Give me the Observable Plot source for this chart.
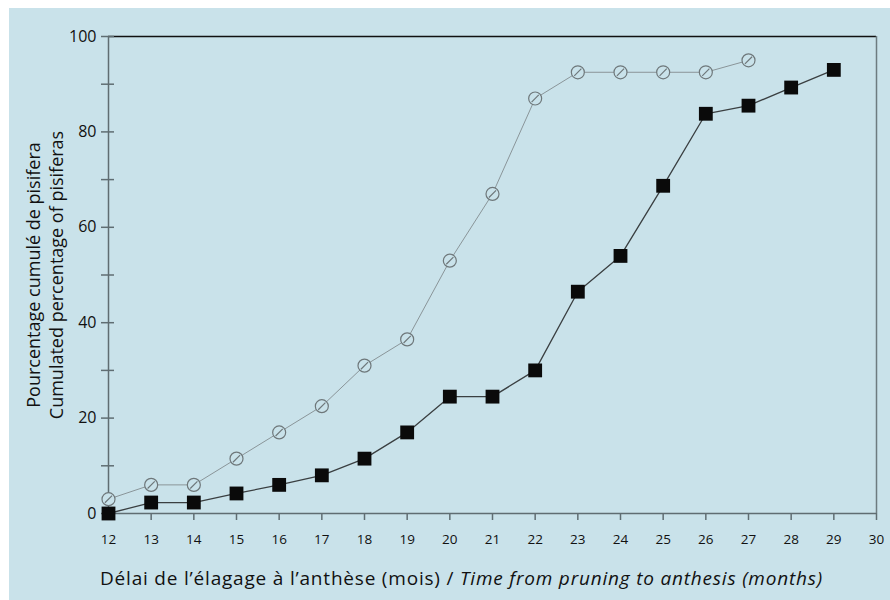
<!DOCTYPE html>
<html>
<head>
<meta charset="utf-8">
<script src="https://cdn.jsdelivr.net/npm/d3@7"></script>
<script src="https://cdn.jsdelivr.net/npm/@observablehq/plot@0.6"></script>
<style>
  html, body { margin: 0; padding: 0; background: #ffffff; }
  #chart { position: absolute; left: 9px; top: 8px; width: 881px; height: 592px; background: #c9e2ea; }
  svg { font-family: "Open Sans", "Noto Sans", sans-serif; }
</style>
</head>
<body>
<div id="chart"></div>
<script>
const months = [12, 13, 14, 15, 16, 17, 18, 19, 20, 21, 22, 23, 24, 25, 26, 27, 28, 29];
const circleValues = [3, 6, 6, 11.5, 17, 22.5, 31, 36.5, 53, 67, 87, 92.5, 92.5, 92.5, 92.5, 95, null, null];
const squareValues = [0, 2.3, 2.3, 4.2, 6, 8, 11.5, 17, 24.5, 24.5, 30, 46.5, 54, 68.7, 83.8, 85.5, 89.3, 93];
const xTicks = [12, 13, 14, 15, 16, 17, 18, 19, 20, 21, 22, 23, 24, 25, 26, 27, 28, 29, 30];
const yTicks = [0, 20, 40, 60, 80, 100];
const yMinorTicks = [10, 30, 50, 70, 90];
const yLabel1 = "Pourcentage cumulé de pisifera";
const yLabel2 = "Cumulated percentage of pisiferas";
const xLabelFr = "Délai de l’élagage à l’anthèse (mois) / ";
const xLabelEn = "Time from pruning to anthesis (months)";

const circles = months.map((m, i) => ({month: m, value: circleValues[i]})).filter(d => d.value != null);
const squares = months.map((m, i) => ({month: m, value: squareValues[i]})).filter(d => d.value != null);

// open circle with a diagonal hatch stroke
const hatchedCircle = {
  draw(context, size) {
    const r = Math.sqrt(size / Math.PI);
    context.moveTo(r, 0);
    context.arc(0, 0, r, 0, 2 * Math.PI);
    const k = r * 0.55;
    context.moveTo(-k, k);
    context.lineTo(k, -k);
  }
};

const axisColor = "#5f6d72";
const font = "Open Sans, Noto Sans, sans-serif";
const plot = Plot.plot({
  width: 881,
  height: 592,
  marginLeft: 99,
  marginRight: 14,
  marginTop: 28,
  marginBottom: 87,
  style: {background: "transparent", fontFamily: font, color: "#111"},
  x: {domain: [12, 30]},
  y: {domain: [0, 100]},
  marks: [
    Plot.ruleY([100], {stroke: "#111", strokeWidth: 1.5}),
    Plot.ruleX([30], {stroke: "#6d7b80", strokeWidth: 1.5}),
    Plot.axisX({ticks: xTicks, tickSize: 7, tickPadding: 14, fontSize: 13.5, stroke: axisColor, strokeWidth: 1.5, label: null, tickFormat: d => String(d)}),
    Plot.axisY({ticks: yTicks, tickSize: 7, tickPadding: 5, fontSize: 16, stroke: axisColor, strokeWidth: 1.5, label: null}),
    Plot.axisY({ticks: yMinorTicks, tickSize: 7, tickFormat: () => "", stroke: axisColor, strokeWidth: 1.5, label: null}),
    Plot.ruleY([...yTicks, ...yMinorTicks], {y: d => d, x1: 12, x2: 12, insetRight: -6, stroke: axisColor, strokeWidth: 1.5}),
    Plot.ruleX([12], {stroke: axisColor, strokeWidth: 1.5}),
    Plot.ruleY([0], {stroke: axisColor, strokeWidth: 1.5}),
    Plot.line(circles, {x: "month", y: "value", stroke: "#8a9599", strokeWidth: 1}),
    Plot.dot(circles, {x: "month", y: "value", r: 6.5, symbol: hatchedCircle, stroke: "#6e777a", strokeWidth: 1.2, fill: "#c9e2ea"}),
    Plot.line(squares, {x: "month", y: "value", stroke: "#3a3f41", strokeWidth: 1.3}),
    Plot.dot(squares, {x: "month", y: "value", symbol: "square", r: 7.8, fill: "#0a0a0a", stroke: "none"}),
    Plot.text([yLabel1], {text: d => d, frameAnchor: "left", textAnchor: "middle", rotate: -90, dx: -74, fontSize: 18, fill: "#111"}),
    Plot.text([yLabel2], {text: d => d, frameAnchor: "left", textAnchor: "middle", rotate: -90, dx: -51.5, fontSize: 18, fill: "#111"})
  ]
});

document.getElementById("chart").appendChild(plot);

// x-axis title with an italic English part
const svg = d3.select(plot);
const t = svg.append("text")
  .attr("x", 91)
  .attr("y", 577)
  .attr("text-anchor", "start")
  .attr("font-size", 19)
  .attr("letter-spacing", 0.8)
  .attr("fill", "#111")
  .attr("font-family", font);
t.append("tspan").text(xLabelFr);
t.append("tspan").attr("font-style", "italic").text(xLabelEn);
</script>
</body>
</html>
